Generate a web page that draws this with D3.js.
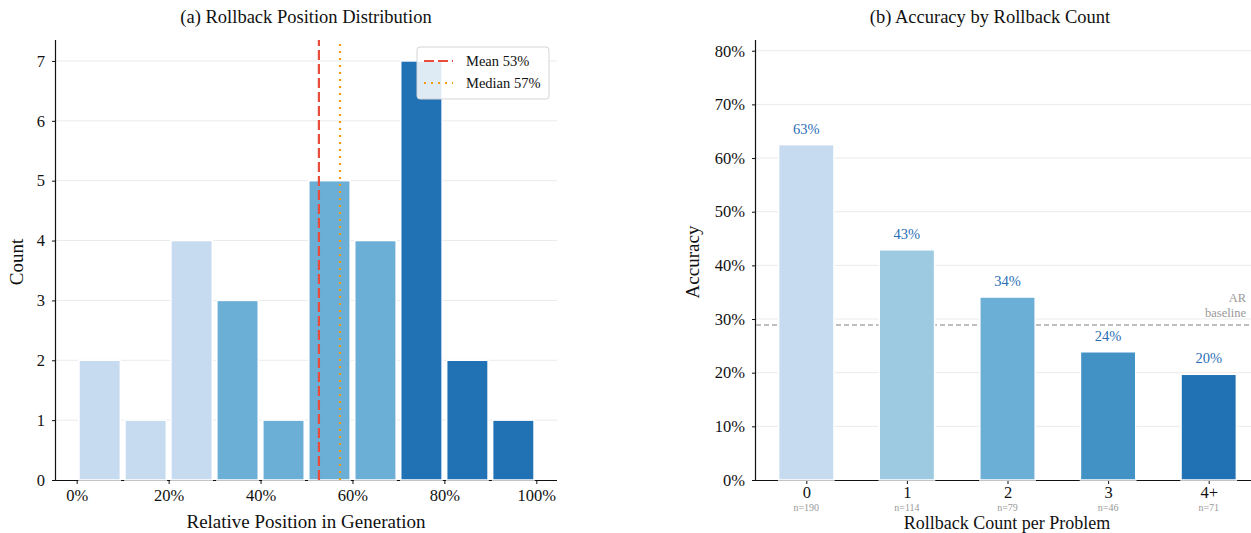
<!DOCTYPE html>
<html>
<head>
<meta charset="utf-8">
<script src="https://cdn.jsdelivr.net/npm/d3@7"></script>
<style>
  body { margin: 0; background: #fff; }
  svg text { font-family: "Liberation Serif", "DejaVu Serif", serif; }
</style>
</head>
<body>
<div id="chart"></div>
<script>
// panel (a): histogram of rollback position
var bin_starts = [0, 0.1, 0.2, 0.3, 0.4, 0.5, 0.6, 0.7, 0.8, 0.9];
var bin_counts = [2, 1, 4, 3, 1, 5, 4, 7, 2, 1];
var bin_colors = ["#c6dbef", "#c6dbef", "#c6dbef", "#6baed6", "#6baed6", "#6baed6", "#6baed6", "#2171b5", "#2171b5", "#2171b5"];
var mean_pos = 0.527;
var median_pos = 0.573;
var pos_ticks = [0, 0.2, 0.4, 0.6, 0.8, 1.0];
var count_ticks = [0, 1, 2, 3, 4, 5, 6, 7];

// panel (b): accuracy by rollback count
var rb_labels = ["0", "1", "2", "3", "4+"];
var rb_acc = [0.625, 0.429, 0.341, 0.239, 0.197];
var rb_n = [190, 114, 79, 46, 71];
var rb_colors = ["#c6dbef", "#9ecae1", "#6baed6", "#4292c6", "#2171b5"];
var ar_baseline = 0.289;
var acc_ticks = [0, 0.1, 0.2, 0.3, 0.4, 0.5, 0.6, 0.7, 0.8];

var width = 1251, height = 533;
var svg = d3.select("#chart").append("svg")
    .attr("width", width).attr("height", height);

var ink = "#111";
var pct = function(d) { return Math.round(d * 100) + "%"; };

function style_axes(xa, ya) {
    [xa, ya].forEach(function(a) {
        a.select(".domain").attr("stroke", ink).attr("stroke-width", 1.2);
        a.selectAll(".tick line").attr("stroke", ink);
        a.selectAll(".tick text").style("font-size", "16.5px").style("fill", ink);
    });
}

function draw_left() {
    var x = d3.scaleLinear().domain([-0.045, 1.045]).range([56, 557]);
    var y = d3.scaleLinear().domain([0, 7.35]).range([480, 40]);
    var g = svg.append("g");

    g.append("g").selectAll("line").data(count_ticks.slice(1)).enter()
        .append("line")
        .attr("x1", 56).attr("x2", 557)
        .attr("y1", function(d) { return y(d); })
        .attr("y2", function(d) { return y(d); })
        .attr("stroke", "#ebebeb").attr("stroke-width", 1);

    var xa = g.append("g").attr("transform", "translate(0,480)")
        .call(d3.axisBottom(x).tickValues(pos_ticks).tickFormat(pct).tickSize(4).tickPadding(5));
    var ya = g.append("g").attr("transform", "translate(56,0)")
        .call(d3.axisLeft(y).tickValues(count_ticks).tickSize(4).tickPadding(7));
    style_axes(xa, ya);
    xa.select(".domain").attr("d", "M56,0.5H557");
    ya.select(".domain").attr("d", "M-0.5,480V40");

    g.append("g").selectAll("rect").data(bin_counts).enter()
        .append("rect")
        .attr("x", function(d, i) { return x(bin_starts[i] + 0.005); })
        .attr("width", function(d, i) { return x(bin_starts[i] + 0.095) - x(bin_starts[i] + 0.005); })
        .attr("y", function(d) { return y(d); })
        .attr("height", function(d) { return y(0) - y(d); })
        .attr("fill", function(d, i) { return bin_colors[i]; })
        .attr("stroke", "#fff").attr("stroke-width", 1.5);

    g.append("line")
        .attr("x1", x(mean_pos)).attr("x2", x(mean_pos))
        .attr("y1", y(0)).attr("y2", 40)
        .attr("stroke", "#e74c3c").attr("stroke-width", 2.2).attr("stroke-dasharray", "10,4");
    g.append("line")
        .attr("x1", x(median_pos)).attr("x2", x(median_pos))
        .attr("y1", y(0)).attr("y2", 40)
        .attr("stroke", "#f39c12").attr("stroke-width", 2.2).attr("stroke-dasharray", "2,5");

    // legend
    var lg = g.append("g").attr("transform", "translate(417,47)");
    lg.append("rect").attr("width", 132).attr("height", 52).attr("rx", 3)
        .attr("fill", "#fff").attr("fill-opacity", 0.85)
        .attr("stroke", "#d5d5d5").attr("stroke-width", 1);
    var items = [
        { label: "Mean " + pct(mean_pos), color: "#e74c3c", dash: "10,4" },
        { label: "Median " + pct(median_pos), color: "#f39c12", dash: "2,5" }
    ];
    items.forEach(function(it, i) {
        var yy = 14 + i * 22;
        lg.append("line").attr("x1", 7).attr("x2", 36).attr("y1", yy).attr("y2", yy)
            .attr("stroke", it.color).attr("stroke-width", 2.2).attr("stroke-dasharray", it.dash);
        lg.append("text").attr("x", 49).attr("y", yy + 5).style("font-size", "14.5px").style("fill", ink).text(it.label);
    });

    g.append("text").attr("x", 306).attr("y", 23).attr("text-anchor", "middle")
        .style("font-size", "18.5px").style("fill", ink).text("(a) Rollback Position Distribution");
    g.append("text").attr("x", 306).attr("y", 528).attr("text-anchor", "middle")
        .style("font-size", "19px").style("fill", ink).text("Relative Position in Generation");
    g.append("text").attr("transform", "translate(23,262) rotate(-90)").attr("text-anchor", "middle")
        .style("font-size", "19px").style("fill", ink).text("Count");
}

function draw_right() {
    var x = d3.scaleLinear().domain([-0.5, 4.5]).range([756, 1259]);
    var y = d3.scaleLinear().domain([0, 0.82]).range([480, 40]);
    var g = svg.append("g");

    g.append("g").selectAll("line").data(acc_ticks.slice(1)).enter()
        .append("line")
        .attr("x1", 756).attr("x2", 1259)
        .attr("y1", function(d) { return y(d); })
        .attr("y2", function(d) { return y(d); })
        .attr("stroke", "#ebebeb").attr("stroke-width", 1);

    var xa = g.append("g").attr("transform", "translate(0,480)")
        .call(d3.axisBottom(x).tickValues(d3.range(rb_labels.length))
            .tickFormat(function(i) { return rb_labels[i]; }).tickSize(4).tickPadding(2));
    var ya = g.append("g").attr("transform", "translate(756,0)")
        .call(d3.axisLeft(y).tickValues(acc_ticks).tickFormat(pct).tickSize(4).tickPadding(7));
    style_axes(xa, ya);
    xa.select(".domain").attr("d", "M756,0.5H1259");
    ya.select(".domain").attr("d", "M-0.5,480V40");

    g.append("line")
        .attr("x1", 756).attr("x2", 1259)
        .attr("y1", y(ar_baseline)).attr("y2", y(ar_baseline))
        .attr("stroke", "#aaaaaa").attr("stroke-width", 1.5).attr("stroke-dasharray", "5,3");
    g.append("text").attr("x", 1246).attr("y", y(ar_baseline) - 23).attr("text-anchor", "end")
        .style("font-size", "12.5px").style("fill", "#999").text("AR");
    g.append("text").attr("x", 1246).attr("y", y(ar_baseline) - 8).attr("text-anchor", "end")
        .style("font-size", "12.5px").style("fill", "#999").text("baseline");

    var bw = 0.55;
    g.append("g").selectAll("rect").data(rb_acc).enter()
        .append("rect")
        .attr("x", function(d, i) { return x(i - bw / 2); })
        .attr("width", x(bw) - x(0))
        .attr("y", function(d) { return y(d); })
        .attr("height", function(d) { return y(0) - y(d); })
        .attr("fill", function(d, i) { return rb_colors[i]; })
        .attr("stroke", "#fff").attr("stroke-width", 1.5);

    g.append("g").selectAll("text").data(rb_acc).enter()
        .append("text")
        .attr("x", function(d, i) { return x(i); })
        .attr("y", function(d) { return y(d) - 11; })
        .attr("text-anchor", "middle")
        .style("font-size", "14.5px").style("fill", "#2a6fb5")
        .text(pct);

    g.append("g").selectAll("text").data(rb_n).enter()
        .append("text")
        .attr("x", function(d, i) { return x(i); })
        .attr("y", 511)
        .attr("text-anchor", "middle")
        .style("font-size", "10px").style("fill", "#999")
        .text(function(d) { return "n=" + d; });

    g.append("text").attr("x", 990).attr("y", 23).attr("text-anchor", "middle")
        .style("font-size", "18.5px").style("fill", ink).text("(b) Accuracy by Rollback Count");
    g.append("text").attr("x", 1007).attr("y", 529).attr("text-anchor", "middle")
        .style("font-size", "18px").style("fill", ink).text("Rollback Count per Problem");
    g.append("text").attr("transform", "translate(699,262) rotate(-90)").attr("text-anchor", "middle")
        .style("font-size", "19px").style("fill", ink).text("Accuracy");
}

draw_left();
draw_right();
</script>
</body>
</html>
